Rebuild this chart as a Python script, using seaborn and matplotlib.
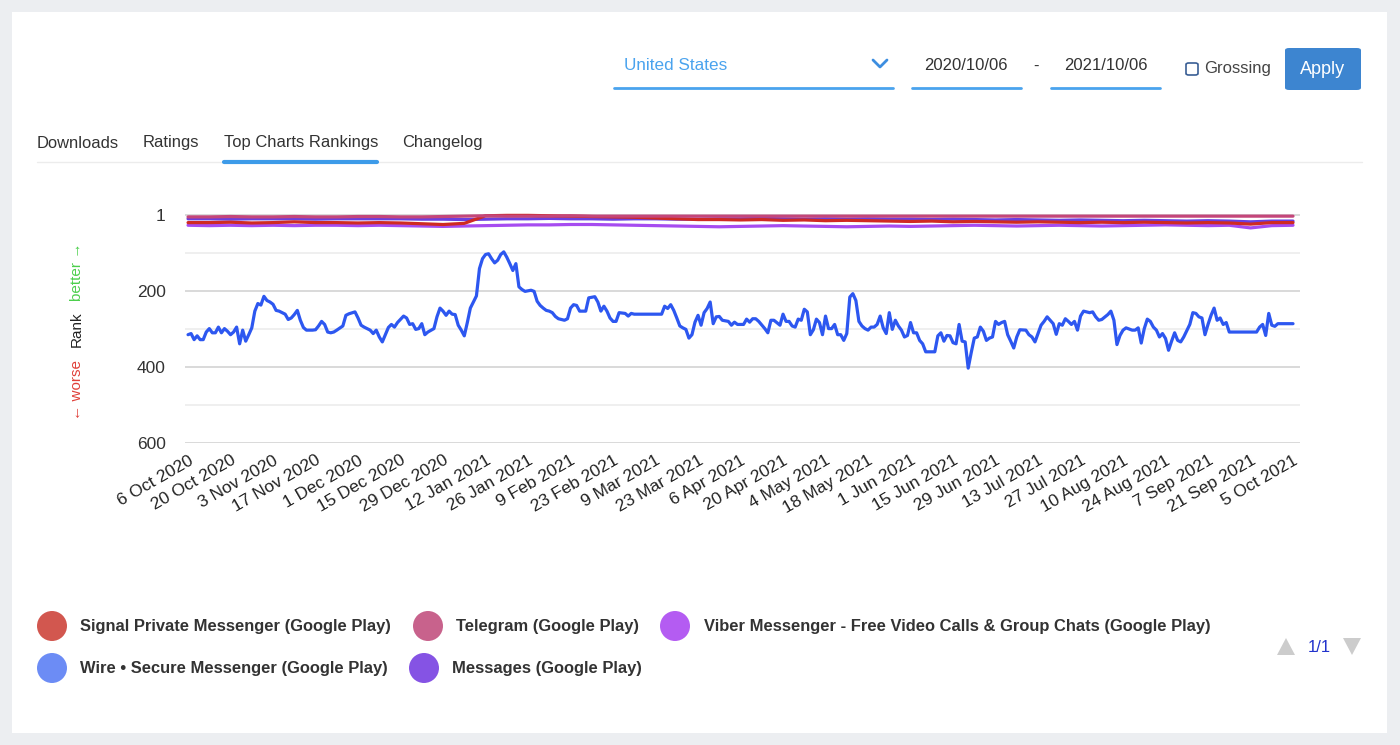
import pandas as pd
import matplotlib.pyplot as plt
from matplotlib.patches import Rectangle, FancyBboxPatch, Ellipse, Polygon
from matplotlib.lines import Line2D
import seaborn as sns

W, H = 1400, 745
START = pd.Timestamp('2020-10-06')

apps = ['Signal Private Messenger (Google Play)', 'Telegram (Google Play)',
        'Viber Messenger - Free Video Calls & Group Chats (Google Play)',
        'Wire • Secure Messenger (Google Play)', 'Messages (Google Play)']
line_colors = ['#cf2a23', '#c4467a', '#a64cf0', '#2d57f0', '#6a3fe0']
legend_colors = ['#d2574f', '#c8628c', '#b45cf2', '#6c8cf5', '#8553e4']

# top apps, one reading per week from 6 Oct 2020
signal_rank = [20, 20, 19, 21, 20, 18, 20, 20, 21, 20, 21, 23, 25, 22, 2, 1, 1, 2,
               3, 4, 5, 6, 8, 10, 12, 12, 13, 12, 14, 13, 15, 14, 15, 16, 17, 16,
               18, 17, 18, 19, 18, 19, 20, 19, 20, 19, 20, 21, 20, 21, 24, 20, 20]
telegram_rank = [5, 5, 4, 5, 5, 4, 5, 5, 4, 4, 5, 5, 4, 3, 2, 3, 3, 3, 2, 3, 3, 3,
                 3, 3, 3, 3, 3, 3, 3, 3, 3, 3, 3, 3, 3, 3, 3, 3, 3, 3, 3, 3, 3, 3,
                 3, 3, 3, 3, 3, 3, 3, 3, 3]
viber_rank = [27, 28, 27, 28, 27, 28, 27, 27, 28, 27, 28, 29, 30, 29, 28, 27, 26, 26,
              25, 25, 26, 27, 28, 29, 30, 31, 30, 29, 28, 29, 30, 31, 30, 29, 30, 29,
              28, 27, 28, 29, 28, 27, 28, 29, 28, 27, 26, 27, 28, 27, 34, 28, 27]
messages_rank = [10, 10, 11, 10, 10, 10, 11, 10, 10, 10, 10, 11, 11, 12, 11, 10, 10, 9,
                 10, 10, 11, 10, 10, 11, 11, 10, 10, 9, 10, 11, 10, 11, 10, 11, 11, 12,
                 11, 12, 13, 12, 13, 14, 13, 14, 15, 14, 15, 16, 15, 16, 18, 16, 16]

# Wire, days since 6 Oct 2020 and rank
wire_day = [0, 1, 2, 3, 4, 5, 6, 7, 8, 9, 10, 11, 12, 13, 14, 15, 16, 17, 18, 19, 20,
            21, 22, 23, 24, 25, 26, 27, 28, 29, 30, 32, 33, 34, 35, 36, 37, 38, 39, 40,
            41, 42, 43, 44, 45, 46, 47, 48, 49, 51, 52, 53, 55, 56, 57, 58, 60, 61, 62,
            63, 64, 65, 66, 67, 68, 69, 71, 72, 73, 74, 75, 76, 77, 78, 79, 81, 82, 83,
            84, 85, 86, 87, 88, 89, 90, 91, 92, 93, 95, 96, 97, 98, 99, 100, 101, 102,
            103, 104, 105, 106, 107, 108, 109, 110, 111, 113, 114, 115, 116, 117, 118,
            119, 120, 121, 122, 124, 125, 126, 127, 128, 129, 131, 132, 134, 135, 136,
            137, 138, 139, 140, 141, 142, 144, 145, 146, 147, 156, 157, 158, 159, 160,
            161, 162, 163, 164, 165, 166, 167, 168, 169, 170, 171, 172, 173, 174, 175,
            176, 178, 179, 180, 181, 183, 184, 185, 186, 187, 188, 190, 191, 192, 193,
            195, 196, 197, 198, 199, 200, 201, 202, 203, 204, 205, 206, 207, 208, 209,
            210, 211, 212, 213, 214, 215, 216, 217, 218, 219, 220, 221, 222, 223, 224,
            225, 226, 227, 228, 229, 230, 231, 232, 233, 234, 235, 236, 237, 238, 239,
            240, 241, 242, 243, 246, 247, 248, 249, 250, 251, 252, 253, 254, 255, 256,
            257, 258, 259, 260, 261, 262, 263, 264, 265, 266, 267, 268, 269, 270, 271,
            272, 273, 274, 276, 277, 278, 279, 280, 281, 282, 283, 284, 285, 286, 287,
            288, 289, 290, 291, 292, 293, 294, 295, 297, 298, 299, 300, 301, 303, 304,
            305, 306, 307, 308, 309, 311, 312, 313, 314, 315, 316, 317, 318, 319, 320,
            321, 322, 323, 324, 325, 326, 327, 328, 330, 331, 332, 333, 334, 335, 336,
            337, 338, 339, 340, 341, 342, 343, 352, 353, 354, 355, 356, 357, 358, 359,
            364]
wire_rank = [315, 312, 328, 318, 328, 328, 308, 299, 310, 310, 295, 310, 299, 306, 315,
             308, 295, 339, 303, 332, 315, 297, 253, 233, 237, 214, 225, 229, 235, 251,
             253, 261, 275, 271, 262, 251, 277, 296, 303, 303, 303, 302, 292, 280, 288,
             308, 310, 308, 303, 292, 264, 260, 255, 271, 290, 295, 303, 312, 303, 321,
             334, 315, 296, 288, 295, 283, 266, 271, 288, 286, 301, 299, 286, 315, 308,
             299, 268, 245, 253, 264, 253, 261, 262, 290, 303, 318, 283, 245, 213, 141,
             115, 104, 102, 115, 126, 119, 104, 97, 111, 128, 146, 128, 189, 196, 201,
             198, 201, 227, 238, 245, 251, 253, 257, 267, 273, 277, 273, 245, 236, 238,
             253, 253, 218, 215, 229, 253, 240, 253, 271, 280, 280, 257, 259, 266, 259,
             261, 261, 240, 246, 236, 251, 271, 292, 297, 301, 324, 315, 282, 264, 290,
             257, 246, 229, 286, 268, 267, 277, 280, 290, 282, 288, 288, 274, 282, 273,
             273, 280, 299, 310, 277, 277, 290, 261, 280, 280, 292, 295, 274, 277, 248,
             255, 315, 302, 274, 283, 315, 266, 299, 299, 288, 315, 315, 330, 312, 216,
             207, 225, 280, 292, 299, 303, 295, 295, 288, 266, 297, 312, 257, 301, 277,
             292, 303, 321, 317, 283, 310, 310, 330, 339, 360, 360, 318, 310, 332, 317,
             318, 336, 339, 288, 332, 334, 403, 362, 324, 321, 295, 306, 330, 324, 321,
             280, 288, 283, 280, 315, 332, 350, 321, 302, 303, 315, 321, 334, 312, 290,
             280, 268, 277, 286, 314, 286, 290, 273, 280, 288, 280, 303, 266, 253, 257,
             255, 268, 277, 275, 262, 253, 277, 341, 317, 303, 297, 303, 303, 297, 337,
             299, 274, 280, 295, 303, 321, 312, 325, 356, 332, 310, 330, 334, 321, 288,
             257, 259, 268, 271, 315, 288, 264, 245, 277, 271, 288, 283, 308, 308, 295,
             288, 317, 259, 290, 293, 286, 286]

y_ticks = [1, 200, 400, 600]
y_minor = [100, 300, 500]

# build long table for seaborn
weeks = pd.date_range(START, periods=len(signal_rank), freq='7D')
frames = []
for name, ranks in [(apps[0], signal_rank), (apps[1], telegram_rank),
                    (apps[2], viber_rank), (apps[4], messages_rank)]:
    frames.append(pd.DataFrame({'date': weeks, 'rank': ranks, 'app': name}))
frames.append(pd.DataFrame({'date': START + pd.to_timedelta(wire_day, unit='D'),
                            'rank': wire_rank, 'app': apps[3]}))
df = pd.concat(frames, ignore_index=True)

sns.set_style('white')
plt.rcParams['font.family'] = ['Liberation Sans', 'DejaVu Sans']

fig = plt.figure(figsize=(W / 100, H / 100), dpi=100)
fig.patch.set_facecolor('#eceef1')


def fx(x):
    return x / W


def fy(y):
    return 1 - y / H


# white card
fig.add_artist(Rectangle((fx(12), fy(733)), fx(1375), 721 / H, transform=fig.transFigure,
                         facecolor='white', edgecolor='none', zorder=0))

# chart
ax = fig.add_axes([fx(185), fy(443), fx(1115), 235.6 / H])
ax.set_facecolor('none')
palette = dict(zip(apps, line_colors))
order = [apps[3], apps[2], apps[4], apps[0], apps[1]]
for name in order:
    sns.lineplot(data=df[df['app'] == name], x='date', y='rank', color=palette[name],
                 lw=2.3, estimator=None, sort=True, ax=ax, legend=False)

ax.set_ylim(600, -20)
ax.set_xlim(START - pd.Timedelta(days=1), START + pd.Timedelta(days=366.3))
ax.set_yticks(y_ticks)
ax.set_yticks(y_minor, minor=True)
ax.yaxis.grid(True, which='major', color='#cfcfcf', lw=1.1)
ax.yaxis.grid(True, which='minor', color='#ebebeb', lw=1.1)
ax.set_axisbelow(True)
ax.tick_params(axis='y', which='both', length=0, pad=14, labelsize=12.5, labelcolor='#333333')
ticks = pd.date_range(START, periods=27, freq='14D')
ax.set_xticks(ticks)
ax.set_xticklabels([f'{d.day} {d:%b %Y}' for d in ticks], rotation=30, ha='right',
                   rotation_mode='anchor', fontsize=12.5, color='#222222')
ax.tick_params(axis='x', length=0, pad=7)
ax.set_xlabel('')
ax.set_ylabel('')
for s in ax.spines.values():
    s.set_visible(False)

# rank axis title
fig.text(fx(77), fy(390), '← worse', rotation=90, ha='center', va='center',
         fontsize=11, color='#e0403a')
fig.text(fx(77), fy(329), 'Rank', rotation=90, ha='center', va='center',
         fontsize=11, color='#222222')
fig.text(fx(77), fy(272), 'better →', rotation=90, ha='center', va='center',
         fontsize=11, color='#4ccf4c')

# tabs
for label, x in [('Downloads', 37), ('Ratings', 143), ('Top Charts Rankings', 224),
                 ('Changelog', 402)]:
    fig.text(fx(x), fy(143), label, ha='left', va='center', fontsize=11.9, color='#333333')
fig.add_artist(Line2D([fx(37), fx(1362)], [fy(162), fy(162)], color='#ececec', lw=1,
                      transform=fig.transFigure))
fig.add_artist(Line2D([fx(224), fx(377)], [fy(162), fy(162)], color='#3d9be9', lw=3,
                      transform=fig.transFigure))

# controls
fig.text(fx(624), fy(66), 'United States', ha='left', va='center', fontsize=12.3,
         color='#4aa3ee')
fig.add_artist(Line2D([fx(873), fx(880), fx(887)], [fy(60), fy(67), fy(60)],
                      color='#3d8ee0', lw=2, transform=fig.transFigure))
fig.text(fx(924), fy(66), '2020/10/06', ha='left', va='center', fontsize=12,
         color='#333333')
fig.text(fx(1036), fy(66), '-', ha='center', va='center', fontsize=12, color='#333333')
fig.text(fx(1064), fy(66), '2021/10/06', ha='left', va='center', fontsize=12,
         color='#333333')
for x0, x1 in [(614, 893), (912, 1021), (1051, 1160)]:
    fig.add_artist(Line2D([fx(x0), fx(x1)], [fy(88), fy(88)], color='#4aa3ee', lw=2,
                          transform=fig.transFigure))
fig.add_artist(FancyBboxPatch((fx(1186), fy(75)), fx(12), 12 / H,
                              boxstyle='round,pad=0,rounding_size=0.002',
                              transform=fig.transFigure, facecolor='white',
                              edgecolor='#3a5f95', lw=1.2))
fig.text(fx(1204), fy(69), 'Grossing', ha='left', va='center', fontsize=12,
         color='#444444')
fig.add_artist(FancyBboxPatch((fx(1285), fy(90)), fx(76), 42 / H,
                              boxstyle='round,pad=0,rounding_size=0.003',
                              transform=fig.transFigure, facecolor='#3d85d0',
                              edgecolor='none'))
fig.text(fx(1323), fy(70), 'Apply', ha='center', va='center', fontsize=13,
         color='white')

# legend
legend_pos = [(52, 626, 80), (428, 626, 456), (675, 626, 704), (52, 668, 80),
              (424, 668, 452)]
for name, col, (cx, cy, tx) in zip(apps, legend_colors, legend_pos):
    fig.add_artist(Ellipse((fx(cx), fy(cy)), fx(30), 30 / H, transform=fig.transFigure,
                           facecolor=col, edgecolor='none'))
    fig.text(fx(tx), fy(cy), name, ha='left', va='center', fontsize=11.85,
             fontweight='bold', color='#333333')

# pager
fig.add_artist(Polygon([(fx(1277), fy(655)), (fx(1295), fy(655)), (fx(1286), fy(638))],
                       closed=True, transform=fig.transFigure, facecolor='#cccccc',
                       edgecolor='none'))
fig.add_artist(Polygon([(fx(1343), fy(638)), (fx(1361), fy(638)), (fx(1352), fy(655))],
                       closed=True, transform=fig.transFigure, facecolor='#cccccc',
                       edgecolor='none'))
fig.text(fx(1319), fy(647), '1/1', ha='center', va='center', fontsize=12, color='#2233cc')

fig.savefig('out.png', dpi=100, facecolor=fig.get_facecolor())
